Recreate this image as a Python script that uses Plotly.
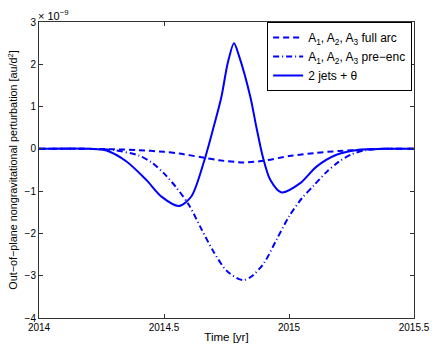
import plotly.graph_objects as go

# ---- data (values in units of 1e-9 au/d^2) ----
t_full = [2014.0, 2014.2, 2014.3, 2014.4, 2014.5, 2014.56, 2014.65, 2014.72,
          2014.82, 2014.9, 2015.0, 2015.1, 2015.2, 2015.3, 2015.38, 2015.5]
full_arc = [0, 0, -0.01, -0.03, -0.07, -0.11, -0.2, -0.27,
            -0.32, -0.28, -0.17, -0.1, -0.05, -0.02, 0, 0]

t_pre = [2014.0, 2014.2, 2014.3, 2014.4, 2014.45, 2014.5, 2014.55, 2014.6,
         2014.65, 2014.7, 2014.75, 2014.8, 2014.82, 2014.85, 2014.9, 2014.95, 2015.0,
         2015.05, 2015.1, 2015.15, 2015.2, 2015.25, 2015.3, 2015.38, 2015.5]
pre_enc = [0, 0, -0.03, -0.16, -0.32, -0.58, -0.92, -1.33,
           -1.9, -2.45, -2.88, -3.08, -3.1, -3.02, -2.7, -2.15, -1.6,
           -1.18, -0.86, -0.55, -0.3, -0.13, -0.04, 0, 0]

t_jets = [2014.0, 2014.2, 2014.27, 2014.35, 2014.43, 2014.49, 2014.56, 2014.61,
          2014.66, 2014.7, 2014.73, 2014.755, 2014.78, 2014.8, 2014.845, 2014.87,
          2014.895, 2014.925, 2014.97, 2015.045, 2015.11, 2015.19, 2015.28, 2015.38, 2015.5]
jets = [0, 0, -0.04, -0.3, -0.74, -1.13, -1.35, -1.12,
        -0.3, 0.55, 1.24, 2.03, 2.5, 2.2, 1.24, 0.5,
        -0.18, -0.73, -1.03, -0.81, -0.42, -0.14, -0.02, 0, 0]

x_ticks = [2014, 2014.5, 2015, 2015.5]
y_ticks = [-4, -3, -2, -1, 0, 1, 2, 3]

BLUE = '#0000ff'
FONT = 'Liberation Sans, Arial, sans-serif'

fig = go.Figure()
fig.add_trace(go.Scatter(x=t_full, y=full_arc, mode='lines', line_shape='spline',
                         line=dict(color=BLUE, width=2, dash='6px,4px', smoothing=0.8),
                         name='A<sub>1</sub>, A<sub>2</sub>, A<sub>3</sub> full arc'))
fig.add_trace(go.Scatter(x=t_pre, y=pre_enc, mode='lines', line_shape='spline',
                         line=dict(color=BLUE, width=2, dash='6px,3px,1px,3px', smoothing=0.8),
                         name='A<sub>1</sub>, A<sub>2</sub>, A<sub>3</sub> pre\u2212enc'))
fig.add_trace(go.Scatter(x=t_jets, y=jets, mode='lines', line_shape='spline',
                         line=dict(color=BLUE, width=2, smoothing=0.8),
                         name='2 jets + \u03b8'))

axis_common = dict(showline=True, linecolor='#333', linewidth=1, mirror='ticks',
                   ticks='inside', ticklen=4, tickcolor='#333', showgrid=False,
                   zeroline=False, automargin=False,
                   tickfont=dict(size=10, color='black', family=FONT))

fig.update_layout(
    width=436, height=349,
    margin=dict(l=39, r=22, t=22, b=31),
    plot_bgcolor='white', paper_bgcolor='white',
    font=dict(family=FONT, size=11, color='black'),
    xaxis=dict(range=[2014, 2015.5], tickvals=x_ticks, ticktext=[str(v) for v in x_ticks],
               title=dict(text='Time [yr]', standoff=0, font=dict(size=11.5)), **axis_common),
    yaxis=dict(range=[-4, 3], tickvals=y_ticks,
               title=dict(text='Out\u2212of\u2212plane nongravitational perturbation [au/d<sup>2</sup>]',
                          standoff=4, font=dict(size=10.8)), **axis_common),
    legend=dict(x=0.995, xanchor='right', y=1, yanchor='top', bordercolor='black',
                borderwidth=1, bgcolor='white', font=dict(size=12), tracegroupgap=0,
                itemwidth=30),
    annotations=[dict(text='\u00d7 10<sup>\u22129</sup>', xref='paper', yref='paper',
                      x=0, y=1, xanchor='left', yanchor='bottom', showarrow=False,
                      font=dict(size=11), xshift=-3, yshift=-2)],
)

# page body has an 8px default margin; drop it so the figure sits at (0, 0)
fig.write_html("out.html", config={'displayModeBar': False},
               post_script="document.body.style.margin='0';")
